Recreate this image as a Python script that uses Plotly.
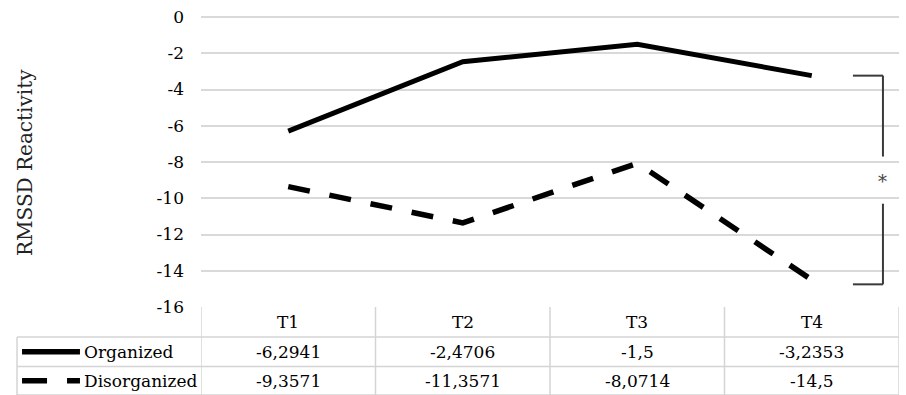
import plotly.graph_objects as go

categories = ["T1", "T2", "T3", "T4"]
organized = [-6.2941, -2.4706, -1.5, -3.2353]
disorganized = [-9.3571, -11.3571, -8.0714, -14.5]
series_names = ["Organized", "Disorganized"]
y_ticks = [0, -2, -4, -6, -8, -10, -12, -14, -16]
y_title = "RMSSD Reactivity"

FONT = "DejaVu Serif"
FS = 17
GRID = "#d9d9d9"
TBL = "#d4d4d4"

x_idx = list(range(len(categories)))

fig = go.Figure()
fig.add_trace(go.Scatter(x=x_idx, y=organized, mode="lines", name=series_names[0],
                         line=dict(color="black", width=5), showlegend=False))
fig.add_trace(go.Scatter(x=x_idx, y=disorganized, mode="lines", name=series_names[1],
                         line=dict(color="black", width=5.5, dash="22px,20px"), showlegend=False))

shapes = []
annotations = []

row_tops = [0, -0.1034, -0.2052, -0.3034]
row_centers = [(row_tops[i] + row_tops[i + 1]) / 2 for i in range(3)]
n = len(categories)

for k in range(n + 1):
    shapes.append(dict(type="line", xref="x", yref="paper", x0=k - 0.5, x1=k - 0.5,
                       y0=row_tops[0], y1=row_tops[3], line=dict(color=TBL, width=1.5)))
for yy in row_tops[1:]:
    shapes.append(dict(type="line", xref="paper", yref="paper", x0=-0.2636, x1=1,
                       y0=yy, y1=yy, line=dict(color=TBL, width=1.5)))
shapes.append(dict(type="line", xref="paper", yref="paper", x0=-0.2636, x1=-0.2636,
                   y0=row_tops[1], y1=row_tops[3], line=dict(color=TBL, width=1.5)))

for i, c in enumerate(categories):
    annotations.append(dict(x=i, y=row_centers[0], xref="x", yref="paper", text=c,
                            xanchor="center", yanchor="middle", showarrow=False,
                            font=dict(family=FONT, size=FS, color="black")))
    for r, vals in enumerate([organized, disorganized]):
        txt = ("%g" % vals[i]).replace(".", ",")
        annotations.append(dict(x=i, y=row_centers[r + 1], xref="x", yref="paper", text=txt,
                                xanchor="center", yanchor="middle", showarrow=False,
                                font=dict(family=FONT, size=FS, color="black")))

for r, name in enumerate(series_names):
    yc = row_centers[r + 1]
    shapes.append(dict(type="line", xref="paper", yref="paper", x0=-0.2564, x1=-0.1734,
                       y0=yc, y1=yc,
                       line=dict(color="black", width=5.5, dash="solid" if r == 0 else "25px,20px")))
    annotations.append(dict(x=-0.1705, y=yc, xref="paper", yref="paper", text=name,
                            xanchor="left", yanchor="middle", showarrow=False,
                            font=dict(family=FONT, size=FS, color="black")))

BR = "#3a3a3a"
bx0, bx1 = 3.236, 3.408
btop, bbot = organized[3], -14.75
shapes += [
    dict(type="line", xref="x", yref="y", x0=bx0, x1=bx1, y0=btop, y1=btop, line=dict(color=BR, width=2)),
    dict(type="line", xref="x", yref="y", x0=bx1, x1=bx1, y0=btop, y1=-7.7, line=dict(color=BR, width=2)),
    dict(type="line", xref="x", yref="y", x0=bx1, x1=bx1, y0=-10.3, y1=bbot, line=dict(color=BR, width=2)),
    dict(type="line", xref="x", yref="y", x0=bx0, x1=bx1, y0=bbot, y1=bbot, line=dict(color=BR, width=2)),
]
annotations.append(dict(x=bx1, y=-9.1, xref="x", yref="y", text="*", showarrow=False,
                        xanchor="center", yanchor="middle",
                        font=dict(family=FONT, size=18, color="#444444")))

annotations.append(dict(x=-0.252, y=0.497, xref="paper", yref="paper", text=y_title,
                        textangle=-90, showarrow=False, xanchor="center", yanchor="middle",
                        font=dict(family=FONT, size=20, color="#222222")))

fig.update_layout(
    width=906, height=395,
    margin=dict(l=201, r=7, t=17, b=88, autoexpand=False),
    plot_bgcolor="white", paper_bgcolor="white",
    shapes=shapes, annotations=annotations,
    xaxis=dict(range=[-0.5, n - 0.5], showticklabels=False, showgrid=False,
               zeroline=False, showline=False, fixedrange=True, automargin=False),
    yaxis=dict(range=[-16, 0], tickvals=y_ticks, ticktext=[str(v) for v in y_ticks],
               showgrid=True, gridcolor=GRID, gridwidth=1.5, automargin=False,
               zeroline=True, zerolinecolor=GRID, zerolinewidth=1.5,
               showline=False, ticks="", ticklabelstandoff=16,
               tickfont=dict(family=FONT, size=FS, color="black")),
    font=dict(family=FONT),
)

fig.write_html("out.html", config={"displayModeBar": False},
               post_script="document.body.style.margin='0';")
